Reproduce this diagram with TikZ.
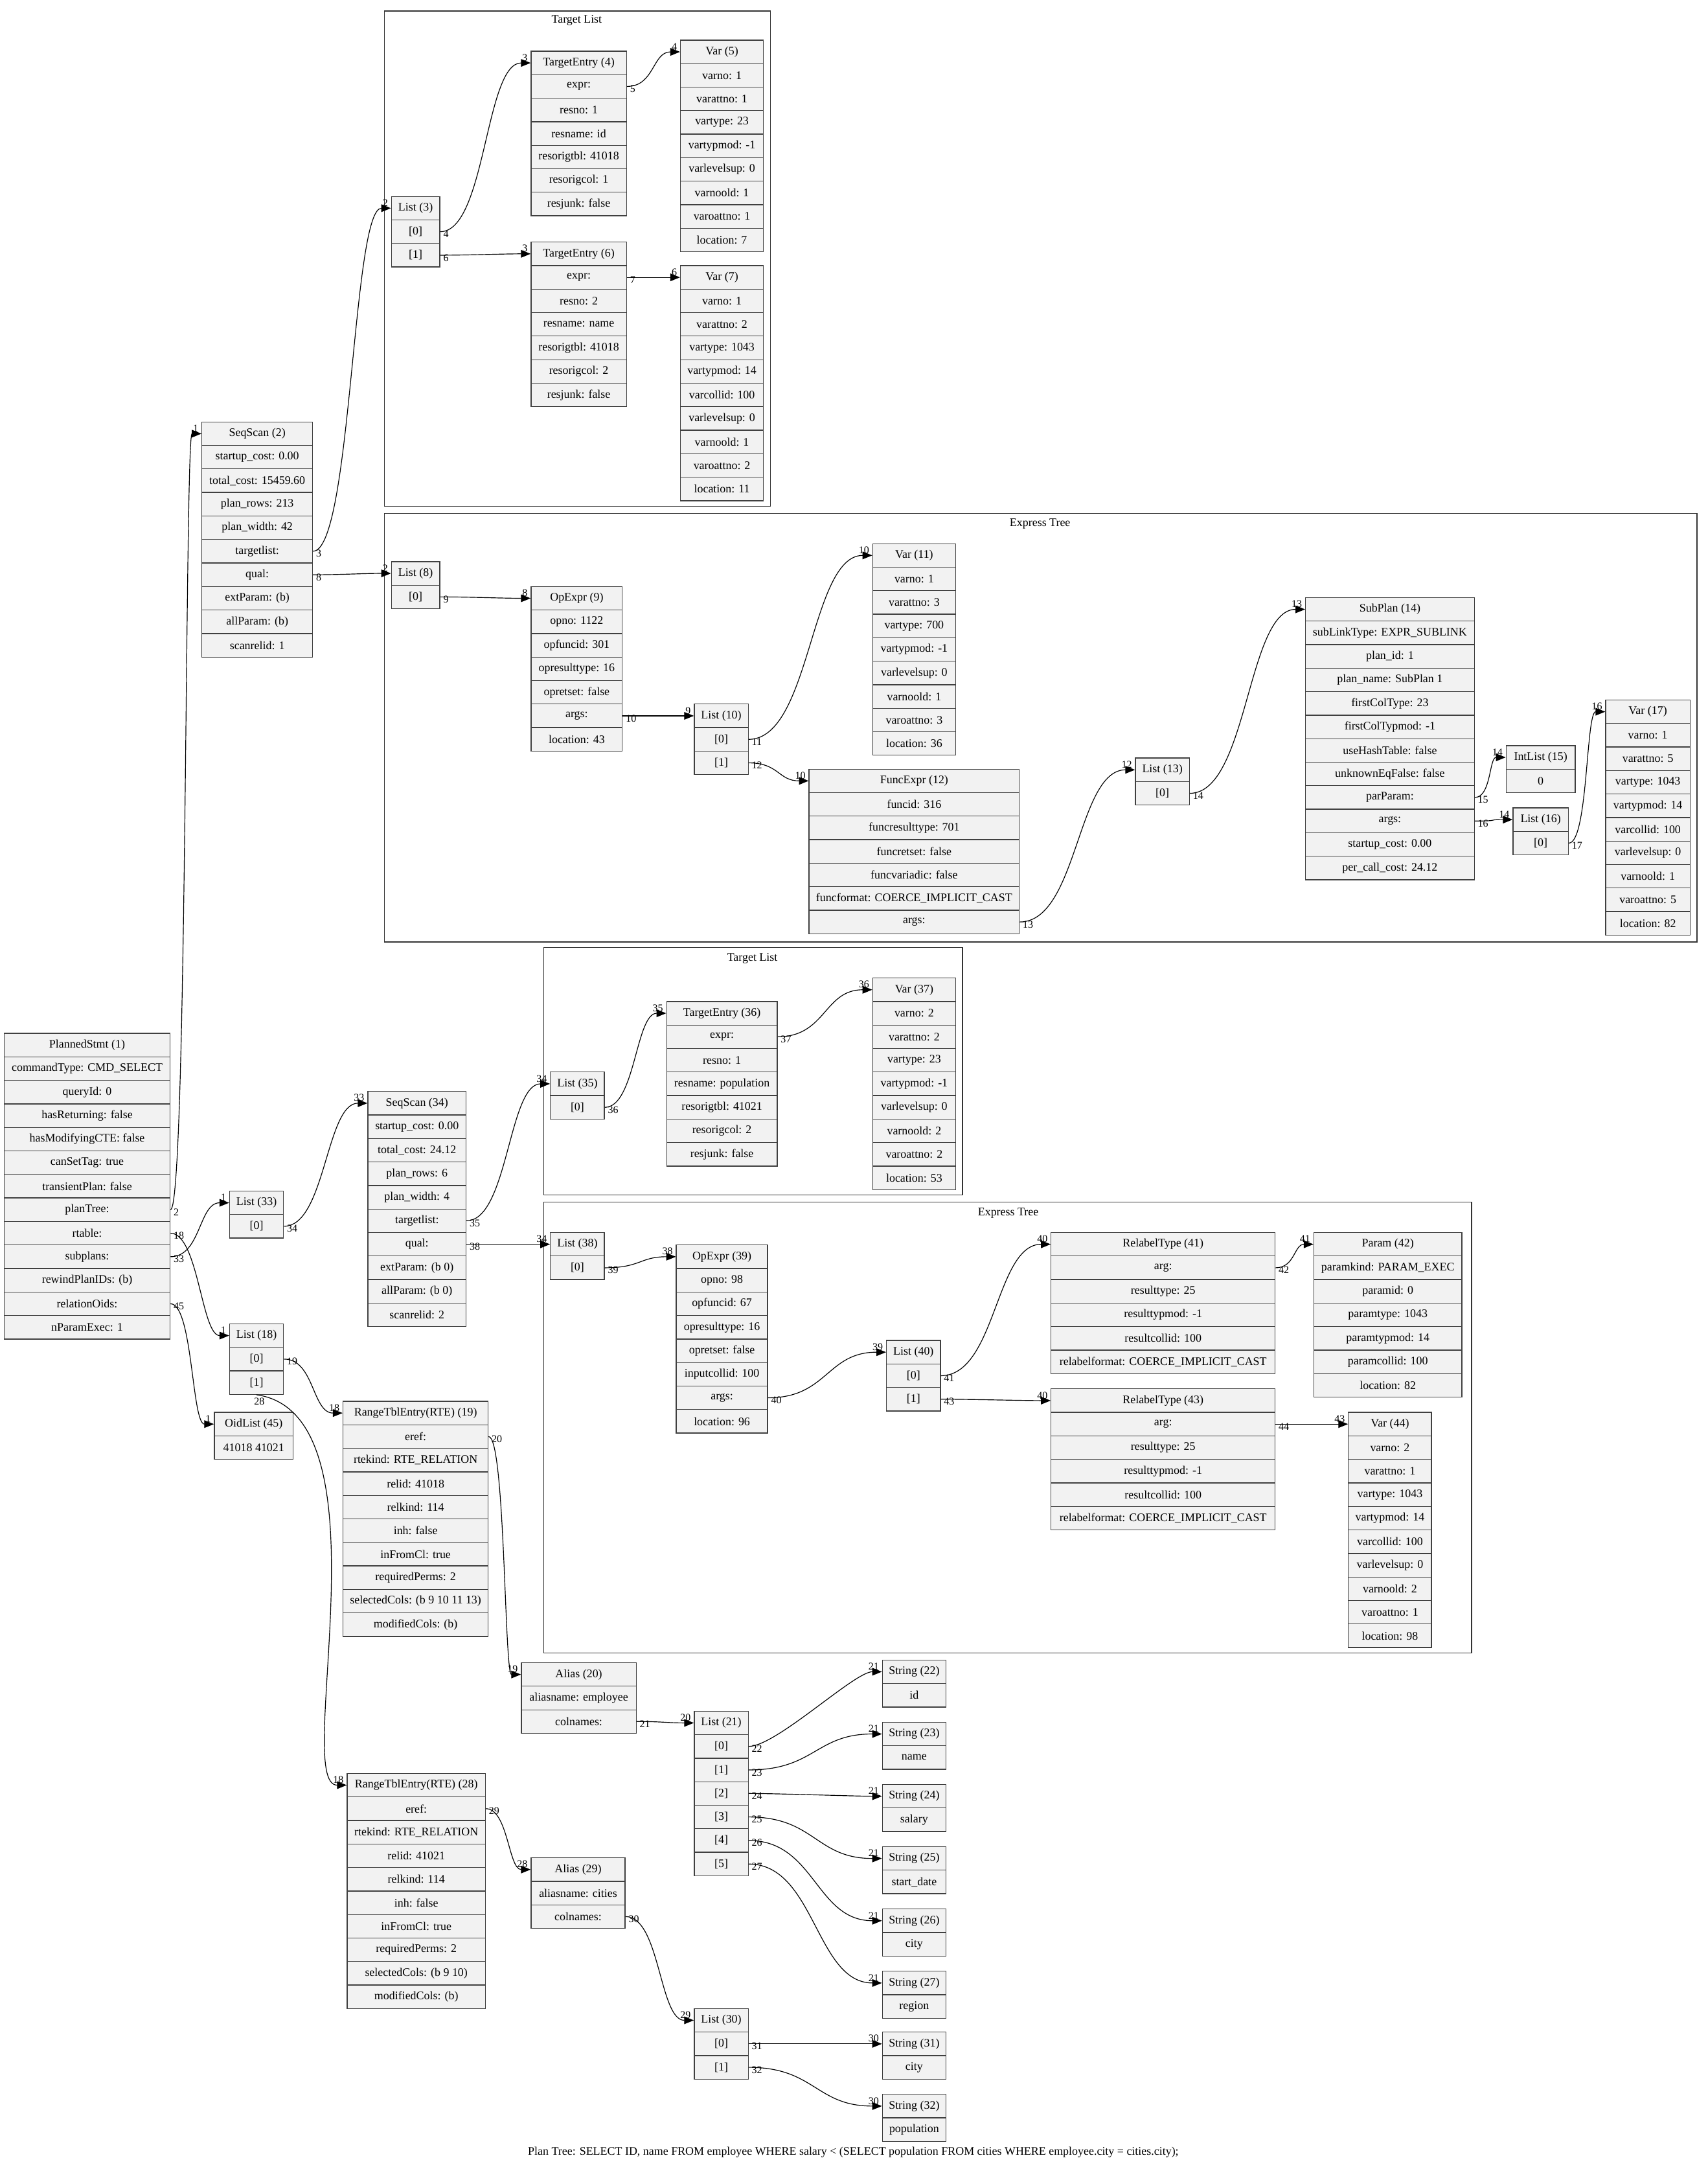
\documentclass[tikz,border=0pt]{standalone}
\usepackage{fontspec}
\setmainfont{Liberation Serif}
\usetikzlibrary{arrows.meta}

% a record is a column of cells named <name>-1, <name>-2, ...
\newcommand{\record}[5]{%
  \foreach \fld [count=\i] in {#5}
    \node[cell, minimum width=#4pt] (#1-\i) at ({#2+#4/2},{#3+17*\i-8.5}) {\fld};
}

\begin{document}
\begin{tikzpicture}[x=1pt, y=-1pt,
    cell/.style={draw=black!75, fill=gray!10, line width=0.6pt, minimum height=17pt,
                 inner sep=0pt, font=\fontsize{8.4}{10}\selectfont},
    frame/.style={draw=black!80, line width=0.6pt},
    clustertitle/.style={font=\fontsize{8.4}{10}\selectfont, anchor=north, inner sep=0pt},
    wire/.style={-{Triangle[length=7pt,width=5.5pt]}, line width=0.55pt},
    sway/.style={out=0, in=180, out distance=#1pt, in distance=#1pt},
    sway/.default=20,
    portlab/.style={font=\fontsize{7.5}{9}\selectfont, inner sep=0pt, anchor=north west,
                    xshift=2pt, yshift=1pt},
    headlab/.style={font=\fontsize{7.5}{9}\selectfont, inner sep=0pt, anchor=south east,
                    xshift=-2pt, yshift=1pt}]
\useasboundingbox (0,0) rectangle (1235,1568);

% clusters
\draw[frame] (278,8) rectangle (557,366);
\node[clustertitle] (c1) at (417,11) {Target List};
\draw[frame] (278,371) rectangle (1227,681);
\node[clustertitle] (c2) at (752,375) {Express Tree};
\draw[frame] (393,685) rectangle (696,864);
\node[clustertitle] (c3) at (544,689) {Target List};
\draw[frame] (393,869) rectangle (1064,1195);
\node[clustertitle] (c4) at (729,873) {Express Tree};

% records
\record{n1}{3}{747}{120}{PlannedStmt (1),commandType: CMD\_SELECT,queryId: 0,hasReturning: false,hasModifyingCTE: false,canSetTag: true,transientPlan: false,planTree:,rtable:,subplans:,rewindPlanIDs: (b),relationOids:,nParamExec: 1}
\record{n2}{146}{305}{80}{SeqScan (2),startup\_cost: 0.00,total\_cost: 15459.60,plan\_rows: 213,plan\_width: 42,targetlist:,qual:,extParam: (b),allParam: (b),scanrelid: 1}
\record{n3}{283}{142}{35}{List (3),{[0]},{[1]}}
\record{n4}{384}{37}{69}{TargetEntry (4),expr:,resno: 1,resname: id,resorigtbl: 41018,resorigcol: 1,resjunk: false}
\record{n5}{492}{29}{60}{Var (5),varno: 1,varattno: 1,vartype: 23,vartypmod: -1,varlevelsup: 0,varnoold: 1,varoattno: 1,location: 7}
\record{n6}{384}{175}{69}{TargetEntry (6),expr:,resno: 2,resname: name,resorigtbl: 41018,resorigcol: 2,resjunk: false}
\record{n7}{492}{192}{60}{Var (7),varno: 1,varattno: 2,vartype: 1043,vartypmod: 14,varcollid: 100,varlevelsup: 0,varnoold: 1,varoattno: 2,location: 11}
\record{n8}{283}{406}{35}{List (8),{[0]}}
\record{n9}{384}{424}{66}{OpExpr (9),opno: 1122,opfuncid: 301,opresulttype: 16,opretset: false,args:,location: 43}
\record{n10}{502}{509}{39}{List (10),{[0]},{[1]}}
\record{n11}{631}{393}{60}{Var (11),varno: 1,varattno: 3,vartype: 700,vartypmod: -1,varlevelsup: 0,varnoold: 1,varoattno: 3,location: 36}
\record{n12}{585}{556}{152}{FuncExpr (12),funcid: 316,funcresulttype: 701,funcretset: false,funcvariadic: false,funcformat: COERCE\_IMPLICIT\_CAST,args:}
\record{n13}{821}{548}{39}{List (13),{[0]}}
\record{n14}{944}{432}{122}{SubPlan (14),subLinkType: EXPR\_SUBLINK,plan\_id: 1,plan\_name: SubPlan 1,firstColType: 23,firstColTypmod: -1,useHashTable: false,unknownEqFalse: false,parParam:,args:,startup\_cost: 0.00,per\_call\_cost: 24.12}
\record{n15}{1089}{539}{50}{IntList (15),0}
\record{n16}{1094}{584}{40}{List (16),{[0]}}
\record{n17}{1161}{506}{61}{Var (17),varno: 1,varattno: 5,vartype: 1043,vartypmod: 14,varcollid: 100,varlevelsup: 0,varnoold: 1,varoattno: 5,location: 82}
\record{n18}{166}{957}{39}{List (18),{[0]},{[1]}}
\record{n19}{248}{1013}{105}{RangeTblEntry(RTE) (19),eref:,rtekind: RTE\_RELATION,relid: 41018,relkind: 114,inh: false,inFromCl: true,requiredPerms: 2,selectedCols: (b 9 10 11 13),modifiedCols: (b)}
\record{n20}{377}{1202}{83}{Alias (20),aliasname: employee,colnames:}
\record{n21}{502}{1237}{39}{List (21),{[0]},{[1]},{[2]},{[3]},{[4]},{[5]}}
\record{n22}{638}{1200}{46}{String (22),id}
\record{n23}{638}{1245}{46}{String (23),name}
\record{n24}{638}{1290}{46}{String (24),salary}
\record{n25}{638}{1335}{46}{String (25),start\_date}
\record{n26}{638}{1380}{46}{String (26),city}
\record{n27}{638}{1425}{46}{String (27),region}
\record{n28}{251}{1282}{100}{RangeTblEntry(RTE) (28),eref:,rtekind: RTE\_RELATION,relid: 41021,relkind: 114,inh: false,inFromCl: true,requiredPerms: 2,selectedCols: (b 9 10),modifiedCols: (b)}
\record{n29}{384}{1343}{68}{Alias (29),aliasname: cities,colnames:}
\record{n30}{502}{1452}{39}{List (30),{[0]},{[1]}}
\record{n31}{638}{1469}{46}{String (31),city}
\record{n32}{638}{1514}{46}{String (32),population}
\record{n33}{166}{861}{39}{List (33),{[0]}}
\record{n34}{266}{789}{71}{SeqScan (34),startup\_cost: 0.00,total\_cost: 24.12,plan\_rows: 6,plan\_width: 4,targetlist:,qual:,extParam: (b 0),allParam: (b 0),scanrelid: 2}
\record{n35}{398}{775}{39}{List (35),{[0]}}
\record{n36}{482}{724}{80}{TargetEntry (36),expr:,resno: 1,resname: population,resorigtbl: 41021,resorigcol: 2,resjunk: false}
\record{n37}{631}{707}{60}{Var (37),varno: 2,varattno: 2,vartype: 23,vartypmod: -1,varlevelsup: 0,varnoold: 2,varoattno: 2,location: 53}
\record{n38}{398}{891}{39}{List (38),{[0]}}
\record{n39}{489}{900}{66}{OpExpr (39),opno: 98,opfuncid: 67,opresulttype: 16,opretset: false,inputcollid: 100,args:,location: 96}
\record{n40}{641}{969}{39}{List (40),{[0]},{[1]}}
\record{n41}{760}{891}{162}{RelabelType (41),arg:,resulttype: 25,resulttypmod: -1,resultcollid: 100,relabelformat: COERCE\_IMPLICIT\_CAST}
\record{n42}{950}{891}{107}{Param (42),paramkind: PARAM\_EXEC,paramid: 0,paramtype: 1043,paramtypmod: 14,paramcollid: 100,location: 82}
\record{n43}{760}{1004}{162}{RelabelType (43),arg:,resulttype: 25,resulttypmod: -1,resultcollid: 100,relabelformat: COERCE\_IMPLICIT\_CAST}
\record{n44}{975}{1021}{60}{Var (44),varno: 2,varattno: 1,vartype: 1043,vartypmod: 14,varcollid: 100,varlevelsup: 0,varnoold: 2,varoattno: 1,location: 98}
\record{n45}{155}{1021}{57}{OidList (45),41018 41021}

% edges
\draw[wire] (n1-8.east) to[sway=12] node[portlab,pos=0]{2} node[headlab,pos=1]{1} (n2-1.west);
\draw[wire] (n1-9.east) to[sway=20] node[portlab,pos=0]{18} node[headlab,pos=1]{1} (n18-1.west);
\draw[wire] (n1-10.east) to[sway=22] node[portlab,pos=0]{33} node[headlab,pos=1]{1} (n33-1.west);
\draw[wire] (n1-12.east) to[sway=16] node[portlab,pos=0]{45} node[headlab,pos=1]{1} (n45-1.west);
\draw[wire] (n2-6.east) to[sway=28] node[portlab,pos=0]{3} node[headlab,pos=1]{2} (n3-1.west);
\draw[wire] (n2-7.east) to[sway] node[portlab,pos=0]{8} node[headlab,pos=1]{2} (n8-1.west);
\draw[wire] (n3-2.east) to[sway=33] node[portlab,pos=0]{4} node[headlab,pos=1]{3} (n4-1.west);
\draw[wire] (n3-3.east) to[sway] node[portlab,pos=0]{6} node[headlab,pos=1]{3} (n6-1.west);
\draw[wire] (n4-2.east) to[sway=20] node[portlab,pos=0]{5} node[headlab,pos=1]{4} (n5-1.west);
\draw[wire] (n6-2.east) to[sway] node[portlab,pos=0]{7} node[headlab,pos=1]{6} (n7-1.west);
\draw[wire] (n8-2.east) to[sway] node[portlab,pos=0]{9} node[headlab,pos=1]{8} (n9-1.west);
\draw[wire] (n9-6.east) to[sway] node[portlab,pos=0]{10} node[headlab,pos=1]{9} (n10-1.west);
\draw[wire] (n10-2.east) to[sway=45] node[portlab,pos=0]{11} node[headlab,pos=1]{10} (n11-1.west);
\draw[wire] (n10-3.east) to[sway=22] node[portlab,pos=0]{12} node[headlab,pos=1]{10} (n12-1.west);
\draw[wire] (n12-7.east) to[sway=42] node[portlab,pos=0]{13} node[headlab,pos=1]{12} (n13-1.west);
\draw[wire] (n13-2.east) to[sway=42] node[portlab,pos=0]{14} node[headlab,pos=1]{13} (n14-1.west);
\draw[wire] (n14-9.east) to[sway=12] node[portlab,pos=0]{15} node[headlab,pos=1]{14} (n15-1.west);
\draw[wire] (n14-10.east) to[sway] node[portlab,pos=0]{16} node[headlab,pos=1]{14} (n16-1.west);
\draw[wire] (n16-2.east) to[sway=14] node[portlab,pos=0]{17} node[headlab,pos=1]{16} (n17-1.west);
\draw[wire] (n18-2.east) to[sway=22] node[portlab,pos=0]{19} node[headlab,pos=1]{18} (n19-1.west);
\draw[wire] (n18-3.south) to[out=-8, in=180, out distance=100pt, in distance=40pt]
    node[portlab,pos=0,anchor=north,xshift=0pt,yshift=-3pt]{28} node[headlab,pos=1]{18} (n28-1.west);
\draw[wire] (n19-2.east) to[sway=12] node[portlab,pos=0]{20} node[headlab,pos=1]{19} (n20-1.west);
\draw[wire] (n20-3.east) to[sway] node[portlab,pos=0]{21} node[headlab,pos=1]{20} (n21-1.west);
\draw[wire] (n21-2.east) to[sway=20] node[portlab,pos=0]{22} node[headlab,pos=1]{21} (n22-1.west);
\draw[wire] (n21-3.east) to[sway=48] node[portlab,pos=0]{23} node[headlab,pos=1]{21} (n23-1.west);
\draw[wire] (n21-4.east) to[sway] node[portlab,pos=0]{24} node[headlab,pos=1]{21} (n24-1.west);
\draw[wire] (n21-5.east) to[sway=48] node[portlab,pos=0]{25} node[headlab,pos=1]{21} (n25-1.west);
\draw[wire] (n21-6.east) to[sway=48] node[portlab,pos=0]{26} node[headlab,pos=1]{21} (n26-1.west);
\draw[wire] (n21-7.east) to[sway=48] node[portlab,pos=0]{27} node[headlab,pos=1]{21} (n27-1.west);
\draw[wire] (n28-2.east) to[sway=16] node[portlab,pos=0]{29} node[headlab,pos=1]{28} (n29-1.west);
\draw[wire] (n29-3.east) to[sway=25] node[portlab,pos=0]{30} node[headlab,pos=1]{29} (n30-1.west);
\draw[wire] (n30-2.east) to[sway] node[portlab,pos=0]{31} node[headlab,pos=1]{30} (n31-1.west);
\draw[wire] (n30-3.east) to[sway=48] node[portlab,pos=0]{32} node[headlab,pos=1]{30} (n32-1.west);
\draw[wire] (n33-2.east) to[sway=30] node[portlab,pos=0]{34} node[headlab,pos=1]{33} (n34-1.west);
\draw[wire] (n34-6.east) to[sway=30] node[portlab,pos=0]{35} node[headlab,pos=1]{34} (n35-1.west);
\draw[wire] (n34-7.east) to[sway] node[portlab,pos=0]{38} node[headlab,pos=1]{34} (n38-1.west);
\draw[wire] (n35-2.east) to[sway=22] node[portlab,pos=0]{36} node[headlab,pos=1]{35} (n36-1.west);
\draw[wire] (n36-2.east) to[sway=35] node[portlab,pos=0]{37} node[headlab,pos=1]{36} (n37-1.west);
\draw[wire] (n38-2.east) to[sway=26] node[portlab,pos=0]{39} node[headlab,pos=1]{38} (n39-1.west);
\draw[wire] (n39-7.east) to[sway=43] node[portlab,pos=0]{40} node[headlab,pos=1]{39} (n40-1.west);
\draw[wire] (n40-2.east) to[sway=40] node[portlab,pos=0]{41} node[headlab,pos=1]{40} (n41-1.west);
\draw[wire] (n40-3.east) to[sway] node[portlab,pos=0]{43} node[headlab,pos=1]{40} (n43-1.west);
\draw[wire] (n41-2.east) to[sway=14] node[portlab,pos=0]{42} node[headlab,pos=1]{41} (n42-1.west);
\draw[wire] (n43-2.east) to[sway] node[portlab,pos=0]{44} node[headlab,pos=1]{43} (n44-1.west);

% caption
\node[clustertitle] (cap) at (617,1552) {Plan Tree: SELECT ID, name FROM employee WHERE salary < (SELECT population FROM cities WHERE employee.city = cities.city);};
\end{tikzpicture}
\end{document}
